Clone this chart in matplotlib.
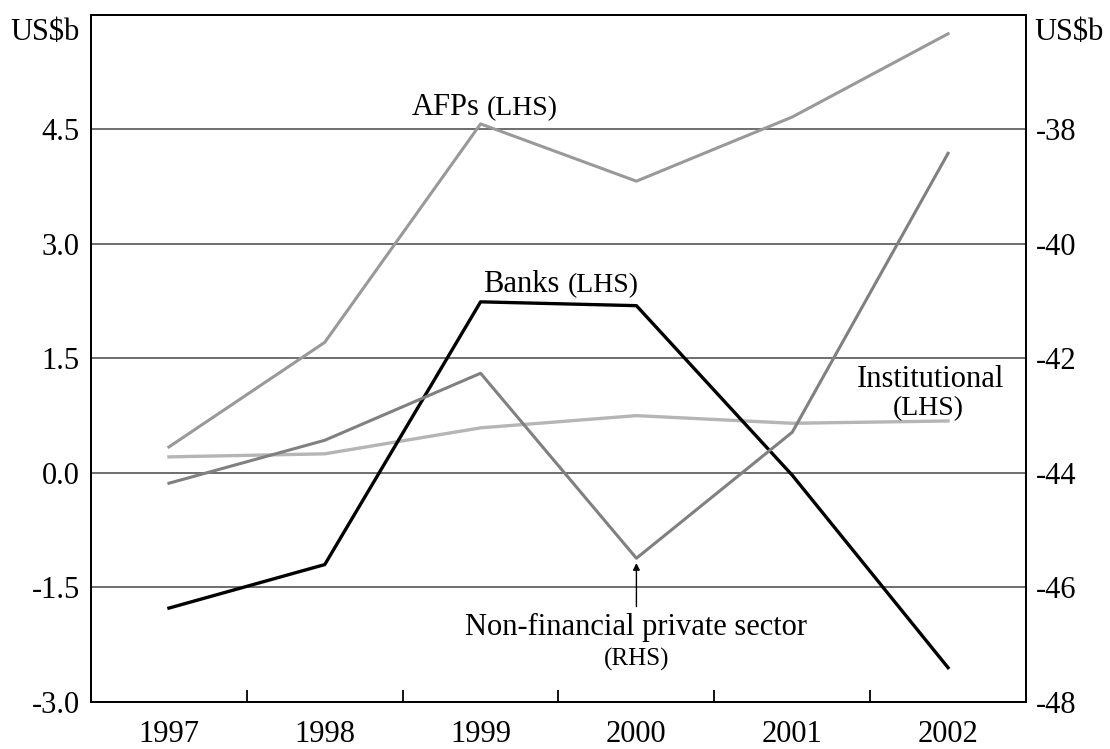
import matplotlib
matplotlib.use('Agg')
import matplotlib.pyplot as plt
import numpy as np

plt.rcParams['font.family'] = ['Liberation Serif', 'DejaVu Serif']

years = ['1997', '1998', '1999', '2000', '2001', '2002']
afps = [0.34, 1.71, 4.57, 3.82, 4.66, 5.75]
banks = [-1.77, -1.20, 2.24, 2.19, -0.03, -2.55]
institutional = [0.21, 0.25, 0.59, 0.75, 0.65, 0.68]
nonfin_private = [-44.18, -43.43, -42.26, -45.49, -43.29, -38.42]  # RHS

lhs_ticks = [-3.0, -1.5, 0.0, 1.5, 3.0, 4.5]
rhs_ticks = [-48, -46, -44, -42, -40, -38]

x = np.arange(len(years))

fig = plt.figure(figsize=(11.1, 7.49), dpi=100)
ax = fig.add_axes([0.082, 0.0627, 0.8423, 0.9177])
ax2 = ax.twinx()

ax.set_xlim(-0.5, len(years) - 0.5)
ax.set_ylim(-3, 6)
ax2.set_ylim(-48, -36)

for t in lhs_ticks[1:]:
    ax.axhline(t, color='#555555', lw=1.2, zorder=1)

ax.plot(x, afps, color='#999999', lw=2.2, zorder=3)
ax.plot(x, institutional, color='#b5b5b5', lw=2.4, zorder=3)
ax.plot(x, banks, color='black', lw=2.4, zorder=4)
ax2.plot(x, nonfin_private, color='#808080', lw=2.2)

ax.set_yticks(lhs_ticks)
ax.set_yticklabels([f'{t:.1f}' for t in lhs_ticks])
ax2.set_yticks(rhs_ticks)
ax2.set_yticklabels([str(t) for t in rhs_ticks])
ax.set_xticks(x)
ax.set_xticklabels(years)
ax.set_xticks(x[:-1] + 0.5, minor=True)

ax.tick_params(axis='y', length=0, pad=8, labelsize=22)
ax2.tick_params(axis='y', length=0, pad=7, labelsize=22)
ax.tick_params(axis='x', which='major', length=0, pad=13, labelsize=22)
ax.tick_params(axis='x', which='minor', direction='in', length=9, width=1.3)

for a in (ax, ax2):
    for s in a.spines.values():
        s.set_linewidth(1.3)
        s.set_color('black')

# series labels
ax.text(1.56, 4.69, 'AFPs', ha='left', va='baseline', fontsize=22)
ax.text(2.04, 4.69, '(LHS)', ha='left', va='baseline', fontsize=20)
ax.text(2.015, 2.37, 'Banks', ha='left', va='baseline', fontsize=22)
ax.text(2.56, 2.37, '(LHS)', ha='left', va='baseline', fontsize=20)
ax.text(4.89, 1.13, 'Institutional', ha='center', va='baseline', fontsize=22)
ax.text(4.87, 0.76, '(LHS)', ha='center', va='baseline', fontsize=20)
ax.text(3.0, -2.12, 'Non-financial private sector', ha='center', va='baseline', fontsize=22)
ax.text(3.0, -2.52, '(RHS)', ha='center', va='baseline', fontsize=18)
ax.annotate('', xy=(3.0, -1.18), xytext=(3.0, -1.75),
            arrowprops=dict(arrowstyle='-|>', color='black', lw=1.0,
                            mutation_scale=10, shrinkA=0, shrinkB=0))

fig.text(0.072, 0.957, 'US$b', ha='right', va='center', fontsize=22)
fig.text(0.932, 0.957, 'US$b', ha='left', va='center', fontsize=22)

fig.savefig('out.png', dpi=100)
